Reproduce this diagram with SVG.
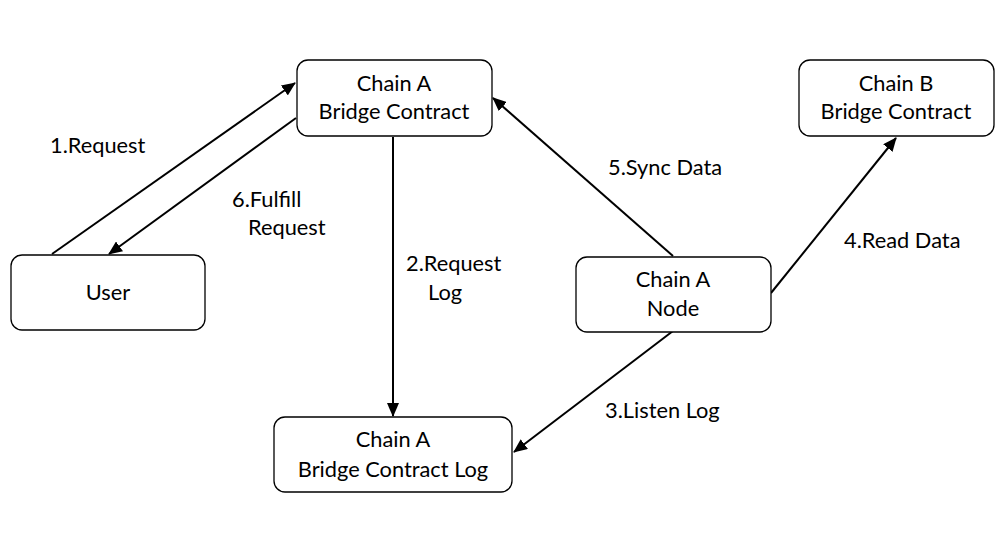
<svg xmlns="http://www.w3.org/2000/svg" width="1008" height="547" viewBox="0 0 1008 547">
<style>
.box{fill:#fff;stroke:#000;stroke-width:1.3}
.t{font-family:Lato,"Liberation Sans",sans-serif;font-size:21.8px;fill:#000;text-anchor:middle}
.l{font-family:Lato,"Liberation Sans",sans-serif;font-size:21.8px;fill:#000}
.c{stroke:#000;stroke-width:2;fill:none;marker-end:url(#ah)}
</style>
<defs>
<marker id="ah" markerUnits="userSpaceOnUse" markerWidth="14" markerHeight="12" refX="13" refY="6" orient="auto">
<path d="M0,0 L14,6 L0,12 Z" fill="#000"/>
</marker>
</defs>
<rect width="1008" height="547" fill="#fff"/>
<g id="connectors">
<line class="c" x1="52" y1="254" x2="295" y2="83"/>
<line class="c" x1="296" y1="118" x2="109" y2="254"/>
<line class="c" x1="393" y1="137" x2="393" y2="416"/>
<line class="c" x1="673" y1="331" x2="514" y2="452"/>
<line class="c" x1="771" y1="293" x2="896" y2="138"/>
<line class="c" x1="673" y1="256" x2="493" y2="98"/>
</g>
<g id="labels">
<text class="l" x="50" y="153">1.Request</text>
<text class="l" x="232" y="207">6.Fulfill</text>
<text class="l" x="248" y="235">Request</text>
<text class="l" x="406" y="271">2.Request</text>
<text class="l" x="428" y="300">Log</text>
<text class="l" x="605" y="418">3.Listen Log</text>
<text class="l" x="844" y="248">4.Read Data</text>
<text class="l" x="608" y="175">5.Sync Data</text>
</g>
<g id="chainA-bridge">
<rect class="box" x="297" y="60" width="195" height="76" rx="11"/>
<text class="t" x="394" y="91">Chain A</text>
<text class="t" x="394" y="119">Bridge Contract</text>
</g>
<g id="user">
<rect class="box" x="11" y="255" width="194" height="75" rx="11"/>
<text class="t" x="108" y="300">User</text>
</g>
<g id="chainB-bridge">
<rect class="box" x="799" y="60" width="195" height="76" rx="11"/>
<text class="t" x="896" y="91">Chain B</text>
<text class="t" x="896" y="119">Bridge Contract</text>
</g>
<g id="chainA-node">
<rect class="box" x="576" y="257" width="195" height="75" rx="11"/>
<text class="t" x="673" y="287">Chain A</text>
<text class="t" x="673" y="316">Node</text>
</g>
<g id="chainA-log">
<rect class="box" x="274" y="417" width="238" height="75" rx="11"/>
<text class="t" x="393" y="447">Chain A</text>
<text class="t" x="393" y="477">Bridge Contract Log</text>
</g>
</svg>
